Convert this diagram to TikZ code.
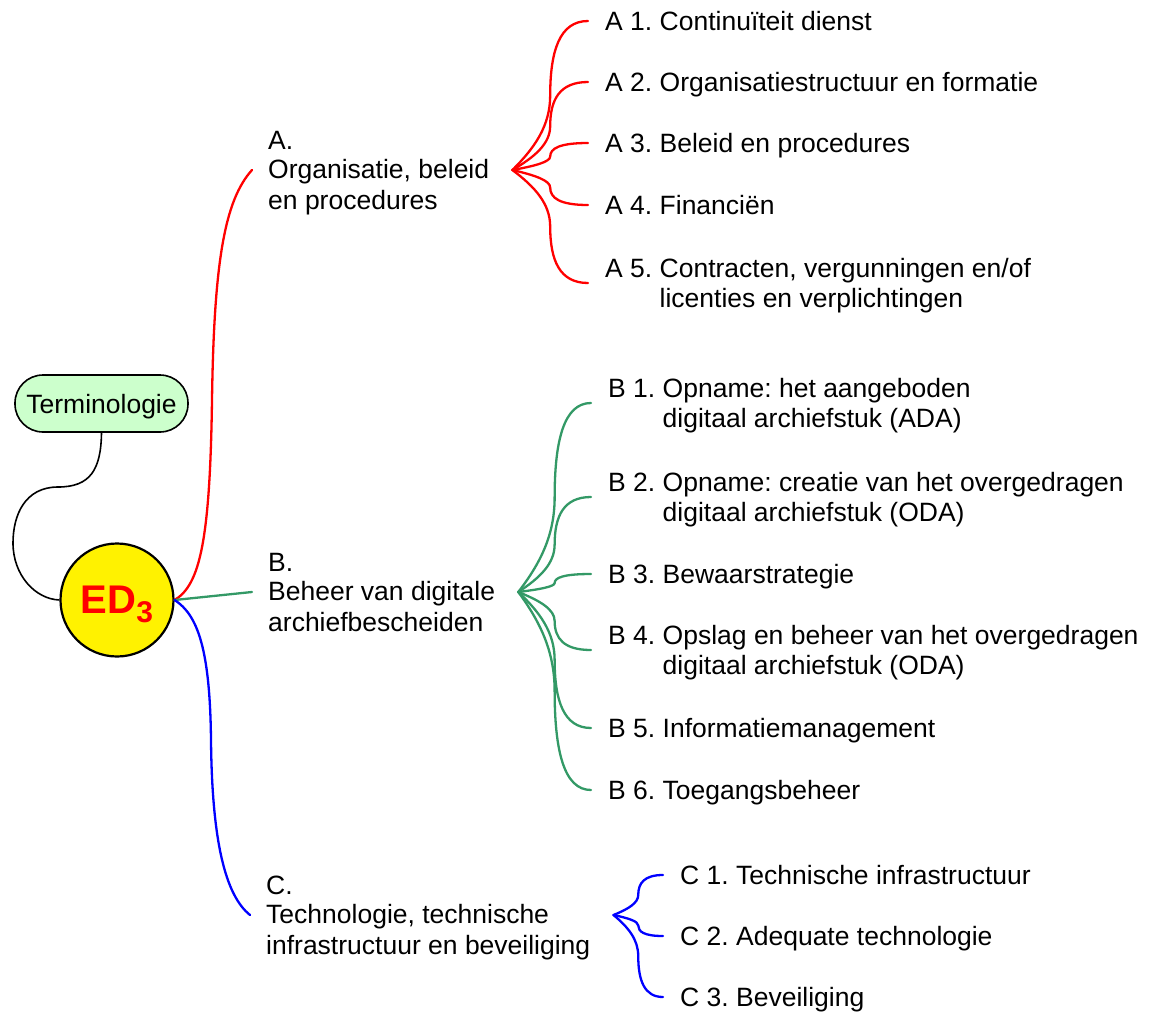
\documentclass[tikz,border=0pt]{standalone}
\usepackage{fontspec}
\setmainfont{Liberation Sans}
\usetikzlibrary{calc}
\definecolor{mmred}{RGB}{255,0,0}
\definecolor{mmgreen}{RGB}{51,153,102}
\definecolor{mmblue}{RGB}{0,0,255}
\definecolor{termfill}{RGB}{204,255,204}
\frenchspacing
\newcommand\ms{\rule[-5.25pt]{0pt}{29.5pt}}
% fan connector: style, parent node, child node
\newcommand\fanline[3]{%
  \draw[#1] let \p1=([xshift=7pt]#2.east), \p2=(#3.west),
     \n1={0.5*(\x2-\x1)}, \n2={\y2-\y1} in
   (\p1) .. controls (\x1+0.6*\n1, \y1+0.15*\n2) and (\x1+\n1, \y1+0.3*\n2) .. (\x1+\n1, \y1+0.5*\n2)
         .. controls (\x1+\n1, \y1+0.8*\n2) and (\x1+1.25*\n1, \y2) .. (\p2);}
\tikzset{
  txt/.style={font=\fontsize{26.5}{29.5}\selectfont},
  topic/.style={txt, anchor=west, align=left, inner xsep=16pt, inner ysep=0pt},
  sub/.style={topic, inner xsep=17pt},
  conn/.style={line width=2.3pt, line cap=round},
}
\begin{document}
\begin{tikzpicture}[x=1pt, y=-1pt]
\useasboundingbox (0,0) rectangle (1149,1012);

% central and side nodes
\node[circle, draw, fill=yellow, line width=2.2pt, minimum size=113pt, inner sep=0pt,
      text=red, font=\fontsize{40}{40}\selectfont\bfseries,
      text height=28.6pt, text depth=2.6pt] (ed) at (117,600)
      {ED\raisebox{-9pt}{\fontsize{30}{30}\selectfont 3}};
\node[txt, draw, fill=termfill, rounded corners=28pt, minimum width=173pt,
      minimum height=57pt, inner sep=0pt, line width=1.6pt,
      text height=19pt, text depth=0pt] (term) at (101.5,403.5) {Terminologie};

% main topics
\node[topic] (a) at (252,170) {\ms A.\\\ms Organisatie, beleid\\\ms en procedures};
\node[topic] (b) at (252,592) {\ms B.\\\ms Beheer van digitale\\\ms archiefbescheiden};
\node[topic] (c) at (250,915) {\ms C.\\\ms Technologie, technische\\\ms infrastructuur en beveiliging};

% A subtopics
\node[sub] (a1) at (588,21)  {\ms A 1. Continuïteit dienst};
\node[sub] (a2) at (588,82)  {\ms A 2. Organisatiestructuur en formatie};
\node[sub] (a3) at (588,143) {\ms A 3. Beleid en procedures};
\node[sub] (a4) at (588,205) {\ms A 4. Financiën};
\node[sub] (a5) at (588,283) {\ms A 5. Contracten, vergunningen en/of\\\ms\hphantom{A 5.\ }licenties en verplichtingen};

% B subtopics
\node[sub] (b1) at (591,403) {\ms B 1. Opname: het aangeboden\\\ms\hphantom{B 1.\ }digitaal archiefstuk (ADA)};
\node[sub] (b2) at (591,497) {\ms B 2. Opname: creatie van het overgedragen\\\ms\hphantom{B 2.\ }digitaal archiefstuk (ODA)};
\node[sub] (b3) at (591,574) {\ms B 3. Bewaarstrategie};
\node[sub] (b4) at (591,650) {\ms B 4. Opslag en beheer van het overgedragen\\\ms\hphantom{B 4.\ }digitaal archiefstuk (ODA)};
\node[sub] (b5) at (591,728) {\ms B 5. Informatiemanagement};
\node[sub] (b6) at (591,790) {\ms B 6. Toegangsbeheer};

% C subtopics
\node[sub] (c1) at (663,875) {\ms C 1. Technische infrastructuur};
\node[sub] (c2) at (663,936) {\ms C 2. Adequate technologie};
\node[sub] (c3) at (663,997) {\ms C 3. Beveiliging};

% connectors from the centre
\draw[line width=1.6pt] (term.south) .. controls (101,470) and (90,487) .. (58,487)
   .. controls (25,487) and (13,515) .. (13,543)
   .. controls (13,575) and (35,599) .. (ed.west);
\draw[conn, mmred] (ed.east) .. controls (200,585) and (210,540) .. (212,400)
   .. controls (214,260) and (225,200) .. (a.west);
\draw[conn, mmgreen] (ed.east) -- (b.west);
\draw[conn, mmblue] (ed.east) .. controls (198,615) and (210,650) .. (211,740)
   .. controls (212,840) and (225,895) .. (c.west);

% fans
\foreach \k in {a1,a2,a3,a4,a5} {\fanline{conn, mmred}{a}{\k}}
\foreach \k in {b1,b2,b3,b4,b5,b6} {\fanline{conn, mmgreen}{b}{\k}}
\foreach \k in {c1,c2,c3} {\fanline{conn, mmblue}{c}{\k}}
\end{tikzpicture}
\end{document}
